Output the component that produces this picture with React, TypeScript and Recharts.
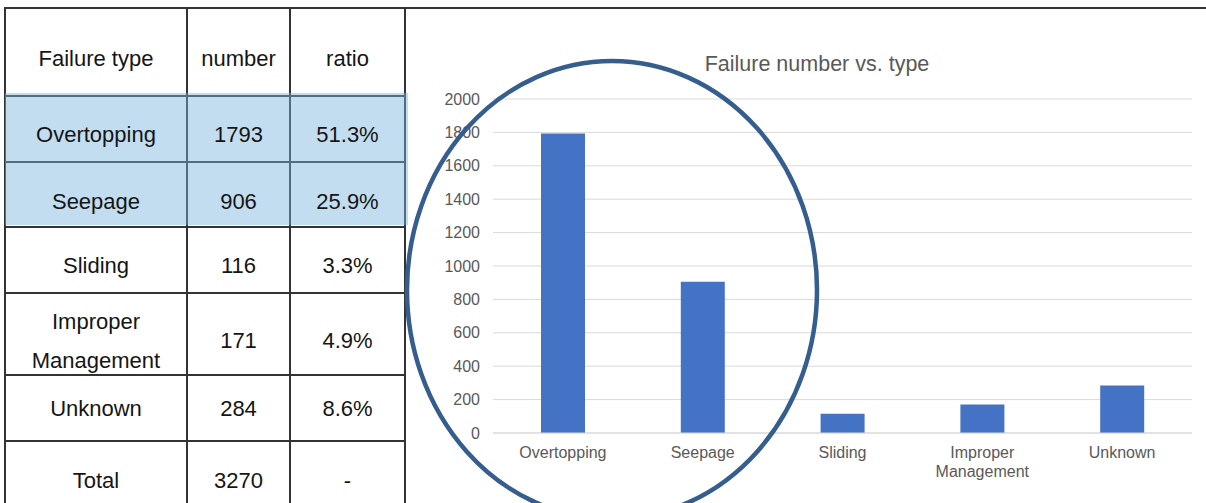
import React from 'react';
import { BarChart, Bar, XAxis, YAxis, CartesianGrid } from 'recharts';

const categories = ['Overtopping', 'Seepage', 'Sliding', 'Improper Management', 'Unknown'];
const failureCounts = [1793, 906, 116, 171, 284];
const ratios = ['51.3%', '25.9%', '3.3%', '4.9%', '8.6%'];
const totalLabel = 'Total';
const totalCount = 3270;
const totalRatio = '-';
const headers = ['Failure type', 'number', 'ratio'];
const yTicks = [0, 200, 400, 600, 800, 1000, 1200, 1400, 1600, 1800, 2000];
const chartTitle = 'Failure number vs. type';

const data = categories.map((c, i) => ({ name: c, value: failureCounts[i] }));

// table layout
const colX = [5, 187, 290, 405];
const rowLines = [8, 96, 162, 227, 293, 375, 441];
const textCenters = [59, 135, 202, 266, 341, 409, 481];
const FONT = "'Liberation Sans', Arial, sans-serif";

const XTick = (props: any) => {
  const { x, y, payload } = props;
  const label: string = payload.value;
  const lines = label.length > 12 ? label.split(' ') : [label];
  return (
    <text x={x} y={y} textAnchor="middle" fill="#595959" fontSize={16} fontFamily={FONT}>
      {lines.map((l, i) => (
        <tspan key={i} x={x} dy={i === 0 ? 17 : 19}>{l}</tspan>
      ))}
    </text>
  );
};

export default function App() {
  const rows: string[][] = [
    headers,
    ...categories.map((c, i) => [c, String(failureCounts[i]), ratios[i]]),
    [totalLabel, String(totalCount), totalRatio],
  ];
  const lineColor = '#333';
  return (
    <div style={{ position: 'absolute', left: 0, top: 0, width: 1206, height: 503, overflow: 'hidden', background: '#fff', fontFamily: FONT }}>
      {/* table lines */}
      {colX.map((x, i) => (
        <div key={'v' + i} style={{ position: 'absolute', left: x - 1, top: 8, width: 2, height: 503, background: lineColor }} />
      ))}
      {rowLines.map((y, i) => (
        <div key={'h' + i} style={{ position: 'absolute', left: 4, top: y - 1, width: i === 0 ? 1202 : 402, height: 2, background: lineColor }} />
      ))}
      {/* highlight */}
      <div style={{ position: 'absolute', left: 5, top: 93, width: 403, height: 132, background: 'rgba(120,180,222,0.45)' }} />
      {/* table text */}
      {rows.map((r, ri) =>
        r.map((t, ci) => {
          const left = colX[ci];
          const w = colX[ci + 1] - colX[ci];
          const isTwo = t === 'Improper Management';
          return (
            <div
              key={ri + '-' + ci}
              style={{
                position: 'absolute',
                left,
                width: w,
                top: textCenters[ri] - (isTwo ? 39 : 20),
                height: isTwo ? 78 : 40,
                display: 'flex',
                alignItems: 'center',
                justifyContent: 'center',
                textAlign: 'center',
                fontSize: 22,
                lineHeight: isTwo ? '39px' : '40px',
                color: '#151515',
              }}
            >
              {isTwo ? (
                <span>Improper<br />Management</span>
              ) : (
                t
              )}
            </div>
          );
        })
      )}

      {/* chart */}
      <div style={{ position: 'absolute', left: 405, top: 0 }}>
        <BarChart width={801} height={503} data={data} margin={{ top: 99, right: 14, bottom: 40, left: 28 }}>
          <CartesianGrid vertical={false} stroke="#d9d9d9" />
          <XAxis
            dataKey="name"
            height={30}
            axisLine={{ stroke: '#d9d9d9' }}
            tickLine={false}
            tick={<XTick />}
            interval={0}
          />
          <YAxis
            width={60}
            domain={[0, 2000]}
            ticks={yTicks}
            axisLine={false}
            tickLine={false}
            tickMargin={7}
            tick={{ fill: '#595959', fontSize: 16, fontFamily: FONT }}
          />
          <Bar dataKey="value" fill="#4472C4" barSize={44} isAnimationActive={false} />
        </BarChart>
      </div>

      {/* title */}
      <div style={{ position: 'absolute', left: 617, width: 400, top: 50, textAlign: 'center', fontSize: 21.5, lineHeight: '28px', color: '#595959' }}>
        {chartTitle}
      </div>

      {/* ellipse annotation */}
      <svg width={1206} height={503} style={{ position: 'absolute', left: 0, top: 0, pointerEvents: 'none' }}>
        <ellipse cx={612} cy={290} rx={205} ry={229} fill="none" stroke="#355E8E" strokeWidth={4.5} />
      </svg>
    </div>
  );
}
